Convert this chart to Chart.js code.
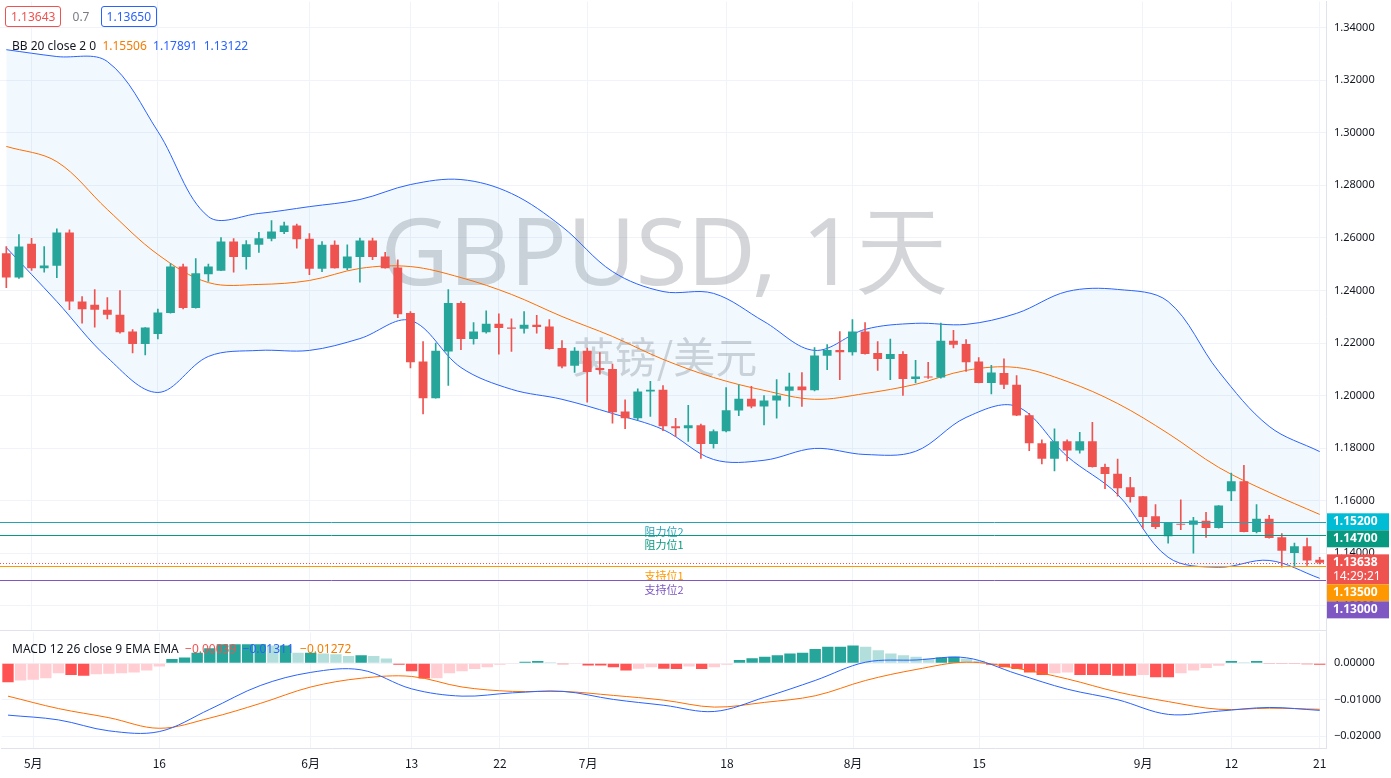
<!DOCTYPE html>
<html>
<head>
<meta charset="utf-8">
<script src="https://cdn.jsdelivr.net/npm/chart.js@4.4.1/dist/chart.umd.min.js"></script>
<style>
  body { margin: 0; background: #fff; font-family: "Noto Sans", Roboto, sans-serif; }
  #wrap { position: relative; width: 1391px; height: 778px; overflow: hidden; }
  #main { position: absolute; left: 0; top: -13px; width: 1391px; height: 659px; }
  #macd { position: absolute; left: 0; top: 618px; width: 1391px; height: 160px; }
  #sep { position: absolute; left: 0; top: 630px; width: 1326px; height: 1px; background: #e0e3eb; }
  .lg { position: absolute; font-size: 12px; color: #131722; white-space: nowrap; }
  .box { display: inline-block; padding: 1px 5px; border: 1px solid; border-radius: 3px; background: #fff; }
</style>
</head>
<body>
<div id="wrap">
  <div id="main"><canvas id="c1"></canvas></div>
  <div id="macd"><canvas id="c2"></canvas></div>
  <div id="sep"></div>
  <div class="lg" style="left:5px;top:6px;">
    <span class="box" style="border-color:#ef5350;color:#ef5350">1.13643</span>
    <span style="color:#787b86;margin:0 8px">0.7</span>
    <span class="box" style="border-color:#2962ff;color:#2962ff">1.13650</span>
  </div>
  <div class="lg" style="left:12px;top:37px;">BB 20 close 2 0&nbsp;
    <span style="color:#f57c00">1.15506</span>&nbsp;
    <span style="color:#2962ff">1.17891</span>&nbsp;
    <span style="color:#2962ff">1.13122</span></div>
  <div class="lg" style="left:12px;top:640px;">MACD 12 26 close 9 EMA EMA&nbsp;
    <span style="color:#ef5350">&minus;0.00039</span>&nbsp;
    <span style="color:#2962ff">&minus;0.01311</span>&nbsp;
    <span style="color:#f57c00">&minus;0.01272</span></div>
</div>
<script>
// K线 (2021-04-29 .. 2021-09-21)
const opens = [1.2542,1.2449,1.2578,1.2485,1.2494,1.2621,1.2358,1.2346,1.2327,1.2308,
  1.2244,1.2196,1.2234,1.2314,1.2491,1.2333,1.2462,1.2475,1.2586,1.2527,
  1.2574,1.2597,1.2622,1.2647,1.2597,1.2483,1.2574,1.2485,1.2527,1.2590,
  1.2529,1.2487,1.2314,1.2130,1.1990,1.2168,1.2352,1.2215,1.2241,1.2273,
  1.2259,1.2254,1.2270,1.2263,1.2181,1.2114,1.2171,1.2105,1.2101,1.1940,
  1.1914,1.2016,1.2022,1.1883,1.1876,1.1887,1.1816,1.1864,1.1943,1.1988,
  1.1959,1.1981,1.2019,1.2035,1.2020,1.2152,1.2174,1.2165,1.2244,1.2162,
  1.2139,1.2158,1.2063,1.2073,1.2069,1.2209,1.2196,1.2130,1.2048,1.2086,
  1.2041,1.1925,1.1819,1.1760,1.1826,1.1791,1.1826,1.1728,1.1703,1.1651,
  1.1617,1.1541,1.1465,1.1513,1.1509,1.1524,1.1496,1.1636,1.1674,1.1481,
  1.1532,1.1461,1.1401,1.1427,1.1376];
const highs = [1.2567,1.2613,1.2598,1.2567,1.2635,1.2631,1.2377,1.2403,1.2373,1.2400,
  1.2251,1.2259,1.2329,1.2502,1.2500,1.2521,1.2500,1.2601,1.2597,1.2590,
  1.2621,1.2666,1.2660,1.2653,1.2616,1.2586,1.2589,1.2574,1.2599,1.2599,
  1.2545,1.2517,1.2320,1.2206,1.2200,1.2403,1.2358,1.2278,1.2323,1.2311,
  1.2292,1.2320,1.2305,1.2289,1.2209,1.2183,1.2181,1.2164,1.2120,1.1984,
  1.2026,1.2054,1.2038,1.1914,1.1963,1.1892,1.1870,1.2031,1.2041,1.2035,
  1.2000,1.2061,1.2086,1.2088,1.2183,1.2194,1.2244,1.2289,1.2278,1.2206,
  1.2215,1.2168,1.2134,1.2127,1.2276,1.2248,1.2213,1.2145,1.2115,1.2140,
  1.2076,1.1933,1.1832,1.1874,1.1832,1.1860,1.1898,1.1740,1.1759,1.1689,
  1.1617,1.1585,1.1515,1.1604,1.1537,1.1556,1.1582,1.1705,1.1735,1.1585,
  1.1545,1.1475,1.1439,1.1458,1.1385];
const lows = [1.2411,1.2446,1.2476,1.2470,1.2449,1.2327,1.2276,1.2260,1.2292,1.2238,
  1.2162,1.2155,1.2216,1.2314,1.2330,1.2333,1.2434,1.2475,1.2470,1.2481,
  1.2545,1.2589,1.2616,1.2561,1.2460,1.2472,1.2485,1.2479,1.2432,1.2517,
  1.2485,1.2297,1.2105,1.1930,1.1990,1.2039,1.2175,1.2196,1.2238,1.2158,
  1.2168,1.2238,1.2238,1.2177,1.2105,1.2088,1.1975,1.2082,1.1895,1.1874,
  1.1908,1.1921,1.1867,1.1844,1.1826,1.1761,1.1800,1.1862,1.1924,1.1953,
  1.1889,1.1914,1.1959,1.1959,1.2018,1.2099,1.2061,1.2154,1.2158,1.2096,
  1.2061,1.2001,1.2048,1.2065,1.2066,1.2181,1.2092,1.2048,1.2006,1.2026,
  1.1924,1.1791,1.1740,1.1714,1.1752,1.1781,1.1728,1.1646,1.1617,1.1595,
  1.1496,1.1494,1.1439,1.1490,1.1401,1.1461,1.1496,1.1600,1.1481,1.1478,
  1.1458,1.1347,1.1350,1.1354,1.1360];
const closes = [1.2449,1.2567,1.2485,1.2495,1.2621,1.2358,1.2329,1.2327,1.2308,1.2241,
  1.2196,1.2259,1.2316,1.2491,1.2333,1.2466,1.2491,1.2586,1.2527,1.2576,
  1.2599,1.2624,1.2647,1.2595,1.2483,1.2574,1.2485,1.2529,1.2590,1.2527,
  1.2485,1.2310,1.2127,1.1990,1.2171,1.2352,1.2215,1.2244,1.2273,1.2257,
  1.2254,1.2270,1.2261,1.2177,1.2111,1.2171,1.2090,1.2097,1.1937,1.1914,
  1.2016,1.2022,1.1883,1.1876,1.1887,1.1816,1.1864,1.1944,1.1988,1.1959,
  1.1981,1.2000,1.2035,1.2020,1.2153,1.2174,1.2165,1.2244,1.2158,1.2139,
  1.2158,1.2063,1.2073,1.2069,1.2209,1.2194,1.2127,1.2048,1.2088,1.2041,
  1.1924,1.1819,1.1760,1.1826,1.1791,1.1826,1.1728,1.1702,1.1648,1.1614,
  1.1538,1.1500,1.1515,1.1509,1.1525,1.1496,1.1582,1.1674,1.1481,1.1532,
  1.1458,1.1410,1.1427,1.1373,1.1364];

// 布林带, read every 4 bars (null = not read)
function every4(vals) {
  const out = new Array(closes.length).fill(null);
  vals.forEach((v, k) => { out[k * 4] = v; });
  return out;
}
const bbUpper = every4([1.3316,1.3290,1.3271,1.3005,1.2681,1.2693,1.2719,1.2746,1.2803,1.2822,
  1.2769,1.2643,1.2472,1.2396,1.2389,1.2282,1.2172,1.2252,1.2275,1.2271,
  1.2313,1.2396,1.2404,1.2358,1.2092,1.1883,1.1787]);
const bbMid = every4([1.2948,1.2890,1.2708,1.2537,1.2430,1.2423,1.2438,1.2484,1.2491,1.2449,
  1.2385,1.2301,1.2225,1.2138,1.2069,1.2020,1.1986,1.2008,1.2043,1.2096,
  1.2107,1.2054,1.1970,1.1856,1.1727,1.1632,1.1548]);
const bbLower = every4([1.2563,1.2358,1.2145,1.2012,1.2149,1.2172,1.2172,1.2217,1.2286,1.2107,
  1.2024,1.1986,1.1932,1.1871,1.1757,1.1754,1.1799,1.1776,1.1788,1.1917,
  1.1959,1.1769,1.1624,1.1385,1.1347,1.1373,1.1305]);

// MACD
const macdHist = [-0.0052,-0.0047,-0.0045,-0.0041,-0.0027,-0.0032,-0.0034,-0.0030,-0.0029,-0.0027,
  -0.0025,-0.0020,-0.0009,0.0012,0.0016,0.0029,0.0041,0.0052,0.0052,0.0052,
  0.0052,0.0049,0.0049,0.0029,0.0029,0.0027,0.0025,0.0020,0.0022,0.0020,
  0.0013,-0.0004,-0.0022,-0.0042,-0.0041,-0.0027,-0.0022,-0.0016,-0.0011,-0.0004,
  -0.0002,0.0004,0.0006,0.0003,-0.0003,-0.0002,-0.0006,-0.0006,-0.0011,-0.0020,
  -0.0015,-0.0011,-0.0015,-0.0016,-0.0009,-0.0016,-0.0011,-0.0004,0.0009,0.0014,
  0.0018,0.0022,0.0027,0.0029,0.0039,0.0045,0.0045,0.0049,0.0045,0.0036,
  0.0027,0.0022,0.0018,0.0013,0.0016,0.0018,0.0013,0.0007,-0.0004,-0.0011,
  -0.0016,-0.0025,-0.0032,-0.0027,-0.0025,-0.0032,-0.0032,-0.0032,-0.0034,-0.0034,
  -0.0032,-0.0038,-0.0038,-0.0027,-0.0020,-0.0013,-0.0007,0.0006,0.0003,0.0006,
  -0.0002,-0.0002,-0.0002,-0.0003,-0.0004];
const macdLine = every4([-0.0142,-0.0155,-0.0185,-0.0187,-0.0126,-0.0061,-0.0025,-0.0018,-0.0070,-0.0090,
  -0.0081,-0.0077,-0.0099,-0.0115,-0.0132,-0.0093,-0.0047,0.0003,0.0009,0.0015,
  -0.0029,-0.0071,-0.0100,-0.0140,-0.0131,-0.0121,-0.0129]);
const signalLine = every4([-0.0090,-0.0124,-0.0149,-0.0178,-0.0150,-0.0110,-0.0065,-0.0041,-0.0036,-0.0065,
  -0.0077,-0.0077,-0.0088,-0.0101,-0.0120,-0.0107,-0.0089,-0.0047,-0.0017,0.0003,
  -0.0014,-0.0043,-0.0079,-0.0105,-0.0126,-0.0123,-0.0126]);

// x 轴标签
const tickMarks = [[2,'5月'],[12,'16'],[24,'6月'],[32,'13'],[39,'22'],[46,'7月'],
  [57,'18'],[67,'8月'],[77,'15'],[90,'9月'],[97,'12'],[104,'21']];
const labels = new Array(closes.length).fill('');
tickMarks.forEach(([i, t]) => { labels[i] = t; });

// 水平线
const levelNames = ['阻力位2', '阻力位1', '支持位1', '支持位2'];
const levelPrices = [1.152, 1.147, 1.135, 1.130];
const lastPrice = 1.13638;
const countdown = '14:29:21';

const UP = '#26a69a', DOWN = '#ef5350';
const levelColors = ['#26a2b5', '#089981', '#ff9800', '#7e57c2'];
const tagColors = ['#00bcd4', '#089981', '#ff9800', '#7e57c2'];
const up = i => closes[i] >= opens[i];

const gridX = {
  offset: false, drawTicks: false,
  color: c => labels[c.index] ? '#f0f3fa' : 'rgba(0,0,0,0)'
};

const mainPlugin = {
  id: 'mainPlugin',
  beforeDatasetsDraw(chart) {
    const { ctx } = chart;
    ctx.save();
    ctx.fillStyle = 'rgba(120,123,134,0.32)';
    ctx.textAlign = 'center';
    ctx.textBaseline = 'middle';
    ctx.font = '94px "Noto Sans", sans-serif';
    ctx.fillText('GBPUSD, 1天', 665, 258 + 13);
    ctx.font = '42px "Noto Sans CJK SC", sans-serif';
    ctx.fillText('英镑/美元', 665, 357 + 13);
    ctx.restore();
  },
  afterDatasetsDraw(chart) {
    const { ctx, chartArea: a, scales } = chart;
    const y = scales.y;
    ctx.save();
    ctx.font = '11px "Noto Sans CJK SC", sans-serif';
    ctx.textAlign = 'center';
    ctx.textBaseline = 'middle';
    levelPrices.forEach((p, k) => {
      const py = Math.round(y.getPixelForValue(p)) + 0.5;
      ctx.strokeStyle = levelColors[k];
      ctx.lineWidth = 1;
      ctx.beginPath(); ctx.moveTo(a.left, py); ctx.lineTo(a.right, py); ctx.stroke();
      ctx.fillStyle = levelColors[k];
      ctx.fillText(levelNames[k], 664, py + 9);
    });
    const ly = Math.round(y.getPixelForValue(lastPrice)) + 0.5;
    ctx.strokeStyle = DOWN;
    ctx.setLineDash([1, 2]);
    ctx.beginPath(); ctx.moveTo(a.left, ly); ctx.lineTo(a.right, ly); ctx.stroke();
    ctx.restore();
  },
  afterDraw(chart) {
    const { ctx, chartArea: a, scales } = chart;
    const y = scales.y;
    const x0 = a.right + 1, w = 62;
    // 价格标签, stacked so they do not overlap
    const tags = levelPrices.map((p, k) => ({ p, txt: p.toFixed(5), bg: tagColors[k], h: 17 }));
    tags.push({ p: lastPrice, txt: lastPrice.toFixed(5), sub: countdown, bg: DOWN, h: 30 });
    tags.forEach(t => { t.top = y.getPixelForValue(t.p) - 8.5; });
    tags.sort((m, n) => m.top - n.top);
    let prev = -1e9;
    ctx.save();
    ctx.textAlign = 'left';
    ctx.textBaseline = 'middle';
    tags.forEach(t => {
      const top = Math.max(t.top, prev);
      prev = top + t.h;
      ctx.fillStyle = t.bg;
      ctx.fillRect(x0, top, w, t.h);
      ctx.fillStyle = '#fff';
      ctx.font = 'bold 12px "Noto Sans", sans-serif';
      ctx.fillText(t.txt, x0 + 6, top + 8.5);
      if (t.sub) {
        ctx.font = '12px "Noto Sans", sans-serif';
        ctx.fillText(t.sub, x0 + 6, top + 22);
      }
    });
    ctx.restore();
  }
};

new Chart(document.getElementById('c1'), {
  type: 'bar',
  data: {
    labels,
    datasets: [
      { type: 'line', data: bbUpper, borderColor: '#2962ff', borderWidth: 1, pointRadius: 0,
        spanGaps: true, tension: 0.35, fill: '+2', backgroundColor: 'rgba(33,150,243,0.06)', order: 5 },
      { type: 'line', data: bbMid, borderColor: '#ff6d00', borderWidth: 1, pointRadius: 0,
        spanGaps: true, tension: 0.35, fill: false, order: 4 },
      { type: 'line', data: bbLower, borderColor: '#2962ff', borderWidth: 1, pointRadius: 0,
        spanGaps: true, tension: 0.35, fill: false, order: 3 },
      { data: lows.map((l, i) => [l, highs[i]]), grouped: false, barThickness: 1,
        backgroundColor: c => up(c.dataIndex) ? UP : DOWN, order: 2 },
      { data: opens.map((o, i) => [o, closes[i]]), grouped: false, barPercentage: 0.7,
        categoryPercentage: 1, minBarLength: 1,
        backgroundColor: c => up(c.dataIndex) ? UP : DOWN, order: 1 }
    ]
  },
  options: {
    responsive: true, maintainAspectRatio: false, animation: false,
    layout: { padding: 0 },
    plugins: { legend: { display: false }, tooltip: { enabled: false } },
    scales: {
      x: { offset: true, grid: gridX, border: { display: false },
        ticks: { display: false, autoSkip: false },
        afterFit: s => { s.height = 0; } },
      y: { position: 'right', min: 1.1103, max: 1.3499,
        grid: { color: '#f0f3fa', drawTicks: false },
        border: { color: '#e0e3eb' },
        ticks: { stepSize: 0.02, includeBounds: false, color: '#131722', padding: 8,
          font: { size: 11, family: 'Noto Sans' }, callback: v => v.toFixed(5) },
        afterFit: s => { s.width = 65; } }
    }
  },
  plugins: [mainPlugin]
});

const histColor = c => {
  const i = c.dataIndex, v = macdHist[i], p = i > 0 ? macdHist[i - 1] : v;
  if (v >= 0) return v >= p ? '#26a69a' : '#b2dfdb';
  return v <= p ? '#ff5252' : '#ffcdd2';
};

new Chart(document.getElementById('c2'), {
  type: 'bar',
  data: {
    labels,
    datasets: [
      { data: macdHist, backgroundColor: histColor, barPercentage: 0.9, categoryPercentage: 1, order: 3 },
      { type: 'line', data: macdLine, borderColor: '#2962ff', borderWidth: 1, pointRadius: 0,
        spanGaps: true, tension: 0.35, order: 1 },
      { type: 'line', data: signalLine, borderColor: '#ff6d00', borderWidth: 1, pointRadius: 0,
        spanGaps: true, tension: 0.35, order: 2 }
    ]
  },
  options: {
    responsive: true, maintainAspectRatio: false, animation: false,
    layout: { padding: 0 },
    plugins: { legend: { display: false }, tooltip: { enabled: false } },
    scales: {
      x: { offset: true, grid: gridX, border: { color: '#e0e3eb' },
        ticks: { autoSkip: false, maxRotation: 0, color: '#131722', padding: 8,
          font: { size: 12, family: 'Noto Sans CJK SC' }, callback: (v, i) => labels[i] },
        afterFit: s => { s.height = 30; } },
      y: { position: 'right', min: -0.0232, max: 0.0084,
        grid: { color: '#f0f3fa', drawTicks: false },
        border: { color: '#e0e3eb' },
        ticks: { stepSize: 0.01, includeBounds: false, color: '#131722', padding: 8,
          font: { size: 11, family: 'Noto Sans' },
          callback: v => (Math.abs(v) < 1e-9 ? 0 : v).toFixed(5).replace('-', '−') },
        afterFit: s => { s.width = 65; } }
    }
  }
});
</script>
</body>
</html>
